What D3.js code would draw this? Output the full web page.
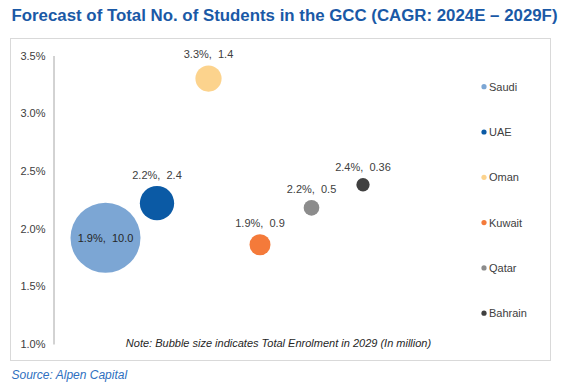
<!DOCTYPE html>
<html>
<head>
<meta charset="utf-8">
<script src="https://cdn.jsdelivr.net/npm/d3@7"></script>
<style>
  body { margin: 0; background: #fff; }
  text { font-family: "Liberation Sans", Arial, sans-serif; }
</style>
</head>
<body>
<div id="chart"></div>
<script>
/******************************************************
 * Bubble chart: student growth forecast in the GCC
*******************************************************/

//! DATA
const countries = ["Saudi", "UAE", "Oman", "Kuwait", "Qatar", "Bahrain"];
const cagr = [1.92, 2.22, 3.30, 1.86, 2.18, 2.38];          // % CAGR 2024E-2029F
const enrolment = [10.0, 2.4, 1.4, 0.9, 0.5, 0.36];          // million, 2029
const sizeLabels = ["10.0", "2.4", "1.4", "0.9", "0.5", "0.36"];
const colors = ["#7ca6d4", "#0b5aa5", "#fcd38d", "#f47a3a", "#8c8c8c", "#404040"];
const yTicks = [1.0, 1.5, 2.0, 2.5, 3.0, 3.5];

//! LAYOUT
const W = 575, H = 390;
const TEXT_COLOR = "#404040";

const svg = d3.select("#chart").append("svg")
    .attr("width", W)
    .attr("height", H);

// Title
svg.append("text")
    .attr("x", 11.5).attr("y", 21)
    .attr("fill", "#1a59a6")
    .attr("font-weight", "bold")
    .attr("font-size", 16)
    .attr("textLength", 546)
    .attr("lengthAdjust", "spacingAndGlyphs")
    .text("Forecast of Total No. of Students in the GCC (CAGR: 2024E \u2013 2029F)");

// Frame
svg.append("rect")
    .attr("x", 10.5).attr("y", 38.5)
    .attr("width", 540).attr("height", 322)
    .attr("fill", "none")
    .attr("stroke", "#d9d9d9");

// Scales
const x = d3.scaleLinear().domain([0, 8]).range([54, 466]);
const y = d3.scaleLinear().domain([1.0, 3.5]).range([344, 55.5]);
const r = d3.scaleSqrt().domain([0, 10]).range([0, 35]);

// Y axis
const yAxis = svg.append("g")
    .attr("transform", "translate(53.5,0)")
    .call(d3.axisLeft(y)
        .tickValues(yTicks)
        .tickSize(0)
        .tickPadding(8)
        .tickFormat(d => d3.format(".1f")(d) + "%"));
yAxis.select(".domain").attr("stroke", "#a6a6a6");
yAxis.selectAll("text")
    .attr("font-family", "Liberation Sans, Arial, sans-serif")
    .attr("font-size", 11)
    .attr("fill", TEXT_COLOR);

// Bubbles
const data = countries.map((c, i) => ({
    name: c, idx: i + 1, y: cagr[i], size: enrolment[i],
    label: d3.format(".1f")(cagr[i]) + "%,\u00a0\u00a0" + sizeLabels[i],
    color: colors[i]
}));

svg.selectAll("circle.bubble")
    .data(data)
    .enter().append("circle")
    .attr("class", "bubble")
    .attr("cx", d => x(d.idx))
    .attr("cy", d => y(d.y))
    .attr("r", d => r(d.size))
    .attr("fill", d => d.color);

// Data labels (inside the largest, above the rest)
svg.selectAll("text.dlabel")
    .data(data)
    .enter().append("text")
    .attr("class", "dlabel")
    .attr("x", d => x(d.idx))
    .attr("y", d => d.size >= 5 ? y(d.y) + 4 : y(d.y) - r(d.size) - 7)
    .attr("text-anchor", "middle")
    .attr("font-size", 11)
    .attr("fill", d => d.size >= 5 ? "#262626" : TEXT_COLOR)
    .text(d => d.label);

// Legend
const legend = svg.selectAll("g.legend")
    .data(data)
    .enter().append("g")
    .attr("class", "legend")
    .attr("transform", (d, i) => `translate(484,${86.7 + i * 45.3})`);
legend.append("circle")
    .attr("r", 2.6)
    .attr("fill", d => d.color);
legend.append("text")
    .attr("x", 5).attr("y", 4)
    .attr("font-size", 11)
    .attr("fill", TEXT_COLOR)
    .text(d => d.name);

// Note
svg.append("text")
    .attr("x", 278.5).attr("y", 347)
    .attr("text-anchor", "middle")
    .attr("font-size", 11)
    .attr("font-style", "italic")
    .attr("fill", "#262626")
    .text("Note: Bubble size indicates Total Enrolment in 2029 (In million)");

// Source
svg.append("text")
    .attr("x", 11.5).attr("y", 379)
    .attr("font-size", 12)
    .attr("font-style", "italic")
    .attr("fill", "#2e6fc0")
    .text("Source: Alpen Capital");
</script>
</body>
</html>
